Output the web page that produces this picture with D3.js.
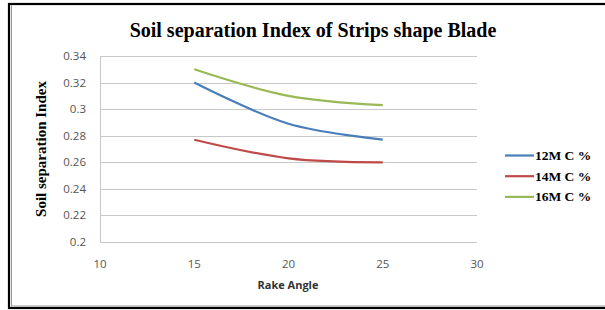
<!DOCTYPE html>
<html>
<head>
<meta charset="utf-8">
<script src="https://d3js.org/d3.v7.min.js"></script>
<style>
  body { margin: 0; background: #fff; }
  svg text { fill: #000; }
</style>
</head>
<body>
<div id="chart"></div>
<script>
// chart values
var rakeAngles = [15, 20, 25];
var seriesNames = ["12M C %", "14M C %", "16M C %"];
var mc12 = [0.32, 0.289, 0.277];
var mc14 = [0.277, 0.263, 0.26];
var mc16 = [0.33, 0.31, 0.303];
var xTicks = [10, 15, 20, 25, 30];
var yTicks = [0.2, 0.22, 0.24, 0.26, 0.28, 0.3, 0.32, 0.34];

var colors = ["#4a7ebb", "#be4b48", "#98b954"];
var allSeries = [mc12, mc14, mc16];

var svg = d3.select("#chart").append("svg")
    .attr("width", 605).attr("height", 310);

// outer frame
svg.append("rect").attr("x", 9).attr("y", 4).attr("width", 600).attr("height", 304)
    .attr("fill", "none").attr("stroke", "#000").attr("stroke-width", 2.2);
svg.append("line").attr("x1", 11.5).attr("x2", 11.5).attr("y1", 5).attr("y2", 306)
    .attr("stroke", "#999").attr("stroke-width", 1);
svg.append("line").attr("x1", 11).attr("x2", 605).attr("y1", 306).attr("y2", 306)
    .attr("stroke", "#999").attr("stroke-width", 1);

var x = d3.scaleLinear().domain([10, 30]).range([100, 477]);
var y = d3.scaleLinear().domain([0.2, 0.34]).range([242, 56]);

// gridlines
svg.append("g").selectAll("line").data(yTicks).enter().append("line")
    .attr("x1", x(10)).attr("x2", x(30))
    .attr("y1", function (d) { return Math.round(y(d)) + 0.5; })
    .attr("y2", function (d) { return Math.round(y(d)) + 0.5; })
    .attr("stroke", "#c8c8c8").attr("stroke-width", 1);

// left axis line
svg.append("line").attr("x1", 100.5).attr("x2", 100.5).attr("y1", y(0.34)).attr("y2", y(0.2) + 0.5)
    .attr("stroke", "#c8c8c8");

// y tick labels
svg.append("g").selectAll("text").data(yTicks).enter().append("text")
    .attr("x", 86).attr("y", function (d) { return y(d) + 4; })
    .attr("text-anchor", "end")
    .style("font-family", "'Open Sans', sans-serif").style("font-size", "11.5px")
    .style("fill", "#555")
    .text(function (d) { return d3.format("")(+d.toFixed(2)); });

// x tick labels
svg.append("g").selectAll("text").data(xTicks).enter().append("text")
    .attr("x", function (d) { return x(d); }).attr("y", 268)
    .attr("text-anchor", "middle")
    .style("font-family", "'Open Sans', sans-serif").style("font-size", "11.5px")
    .style("fill", "#555")
    .text(function (d) { return d; });

// title
svg.append("text").attr("x", 313).attr("y", 37).attr("text-anchor", "middle")
    .style("font-family", "'Liberation Serif', serif").style("font-weight", "bold")
    .style("font-size", "20px")
    .text("Soil separation Index of Strips shape Blade");

// axis titles
svg.append("text").attr("x", 288).attr("y", 289).attr("text-anchor", "middle")
    .style("font-family", "'Open Sans', sans-serif").style("font-weight", "bold")
    .style("font-size", "11px").style("fill", "#333")
    .text("Rake Angle");

svg.append("text").attr("transform", "translate(46,149) rotate(-90)")
    .attr("text-anchor", "middle")
    .style("font-family", "'Liberation Serif', serif").style("font-weight", "bold")
    .style("font-size", "15px")
    .text("Soil separation Index");

// lines
var line = d3.line()
    .x(function (d, i) { return x(rakeAngles[i]); })
    .y(function (d) { return y(d); })
    .curve(d3.curveCatmullRom.alpha(0.5));

svg.append("g").selectAll("path").data(allSeries).enter().append("path")
    .attr("d", line)
    .attr("fill", "none")
    .attr("stroke", function (d, i) { return colors[i]; })
    .attr("stroke-width", 2.2);

// legend
var legend = svg.append("g").selectAll("g").data(seriesNames).enter().append("g")
    .attr("transform", function (d, i) { return "translate(505," + (155.5 + i * 20.7) + ")"; });
legend.append("line").attr("x1", 0).attr("x2", 29).attr("y1", 0).attr("y2", 0)
    .attr("stroke", function (d, i) { return colors[i]; }).attr("stroke-width", 2.2);
legend.append("text").attr("x", 30).attr("y", 4.5)
    .style("font-family", "'Liberation Serif', serif").style("font-weight", "bold")
    .style("font-size", "13.5px")
    .text(function (d) { return d; });
</script>
</body>
</html>
